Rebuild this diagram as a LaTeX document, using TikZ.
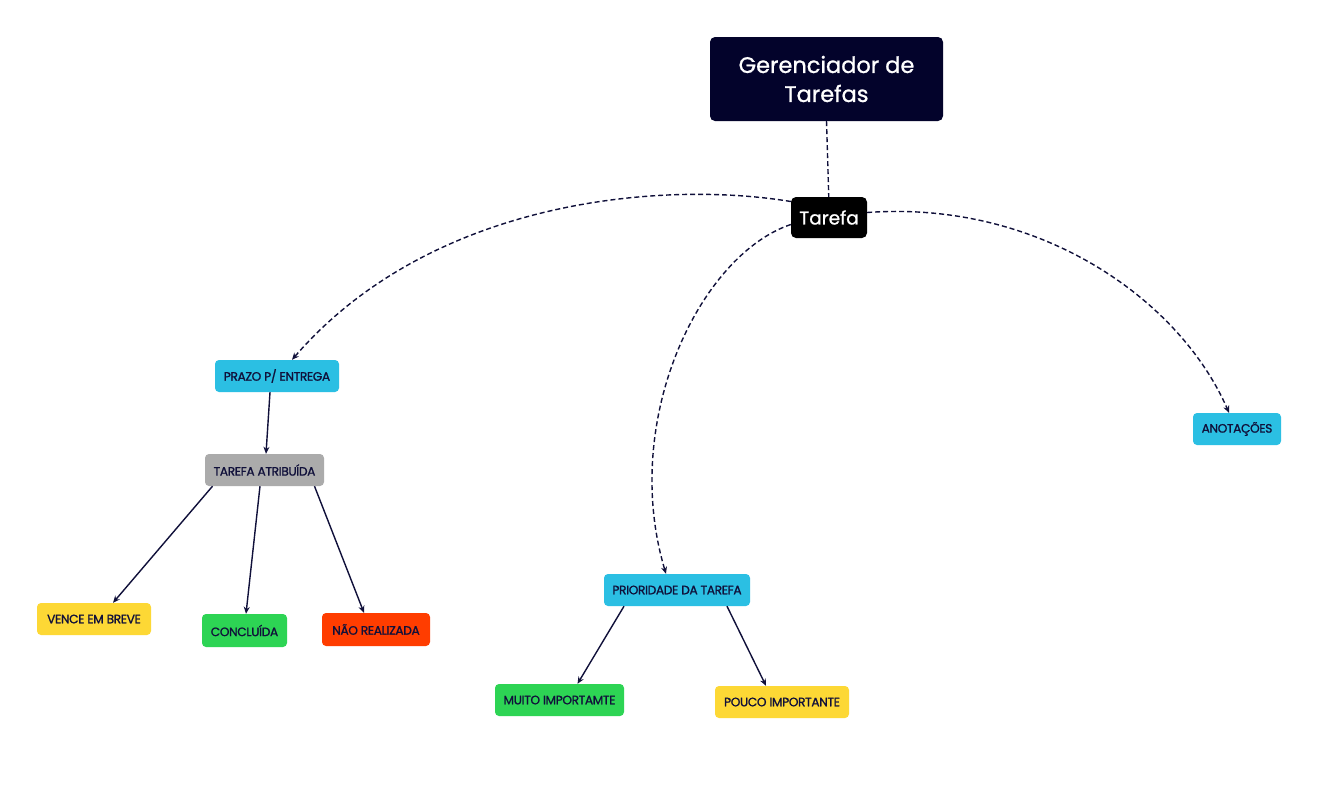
\documentclass[tikz,border=0pt]{standalone}
\usepackage{fontspec}
\setmainfont{Poppins}
\usetikzlibrary{arrows.meta}
\pgfdeclarelayer{paper}
\pgfdeclarelayer{lines}
\pgfsetlayers{paper,lines,main}
\definecolor{navy}{HTML}{03032B}
\definecolor{ink}{HTML}{10103A}
\definecolor{cyanb}{HTML}{2BBFE3}
\definecolor{grayb}{HTML}{ABABAB}
\definecolor{yellowb}{HTML}{FDD835}
\definecolor{greenb}{HTML}{2DD454}
\definecolor{redb}{HTML}{FF3D00}
\tikzset{
  lbl/.style={rounded corners=4pt, inner sep=0pt, text=ink, font=\fontsize{12.2}{14}\selectfont\addfontfeatures{FakeBold=1.2,LetterSpace=-3}},
  conn/.style={draw=ink, line width=1.4pt, -{Stealth[length=7pt,width=6pt]}},
  dconn/.style={conn, dash pattern=on 5pt off 3pt},
}
\begin{document}
\begin{tikzpicture}[x=1pt,y=-1pt]
\begin{pgfonlayer}{paper}
\useasboundingbox[fill=white] (0,0) rectangle (1322,807);
\end{pgfonlayer}
\node[fill=navy, rounded corners=5pt, minimum width=233pt, minimum height=84pt, inner sep=0pt, text=white, align=center, font=\fontsize{22.5}{29}\selectfont\addfontfeatures{FakeBold=1}] (ger) at (826.5,79) {Gerenciador de\\Tarefas};
\node[fill=black, rounded corners=5pt, minimum width=76pt, minimum height=41pt, inner sep=0pt, text=white, font=\fontsize{18.5}{21}\selectfont\addfontfeatures{FakeBold=1}] (tar) at (829,217.5) {Tarefa};
\node[lbl, fill=cyanb, minimum width=124pt, minimum height=32pt] (prazo) at (277,376) {PRAZO P/ ENTREGA};
\node[lbl, fill=grayb, minimum width=119pt, minimum height=32pt] (atr) at (264.5,470) {TAREFA ATRIBUÍDA};
\node[lbl, fill=yellowb, minimum width=114pt, minimum height=32pt] (vence) at (94,619) {VENCE EM BREVE};
\node[lbl, fill=greenb, minimum width=85pt, minimum height=33pt] (conc) at (244.5,630.5) {CONCLUÍDA};
\node[lbl, fill=redb, minimum width=108pt, minimum height=33pt] (nao) at (376,629.5) {NÃO REALIZADA};
\node[lbl, fill=cyanb, minimum width=146pt, minimum height=32pt] (prio) at (677,590) {PRIORIDADE DA TAREFA};
\node[lbl, fill=greenb, minimum width=129pt, minimum height=32pt] (muito) at (559.5,700) {MUITO IMPORTAMTE};
\node[lbl, fill=yellowb, minimum width=134pt, minimum height=32pt] (pouco) at (782,702) {POUCO IMPORTANTE};
\node[lbl, fill=cyanb, minimum width=88pt, minimum height=32pt] (anot) at (1237,429) {ANOTAÇÕES};
% dashed connectors
\begin{pgfonlayer}{lines}
\draw[dconn] (ger.south) -- ([yshift=-8pt]tar.north);
\draw[dconn] ([yshift=16pt]tar.west) .. controls (660,180) and (430,200) .. ([xshift=15pt]prazo.north);
\draw[dconn] ([yshift=-7pt]tar.west) .. controls (700,255) and (620,420) .. ([xshift=-11pt]prio.north);
\draw[dconn] ([yshift=5pt]tar.east) .. controls (1040,200) and (1180,300) .. ([xshift=-8pt]anot.north);
\end{pgfonlayer}
% solid connectors
\draw[conn] ([xshift=-7pt]prazo.south) -- ([xshift=1.5pt]atr.north);
\draw[conn] ([xshift=-52pt]atr.south) -- ([xshift=19pt]vence.north);
\draw[conn] ([xshift=-4.5pt]atr.south) -- ([xshift=1.5pt]conc.north);
\draw[conn] ([xshift=50pt]atr.south) -- ([xshift=-12pt]nao.north);
\draw[conn] ([xshift=-53pt]prio.south) -- ([xshift=18pt]muito.north);
\draw[conn] ([xshift=50pt]prio.south) -- ([xshift=-16pt]pouco.north);
\end{tikzpicture}
\end{document}
